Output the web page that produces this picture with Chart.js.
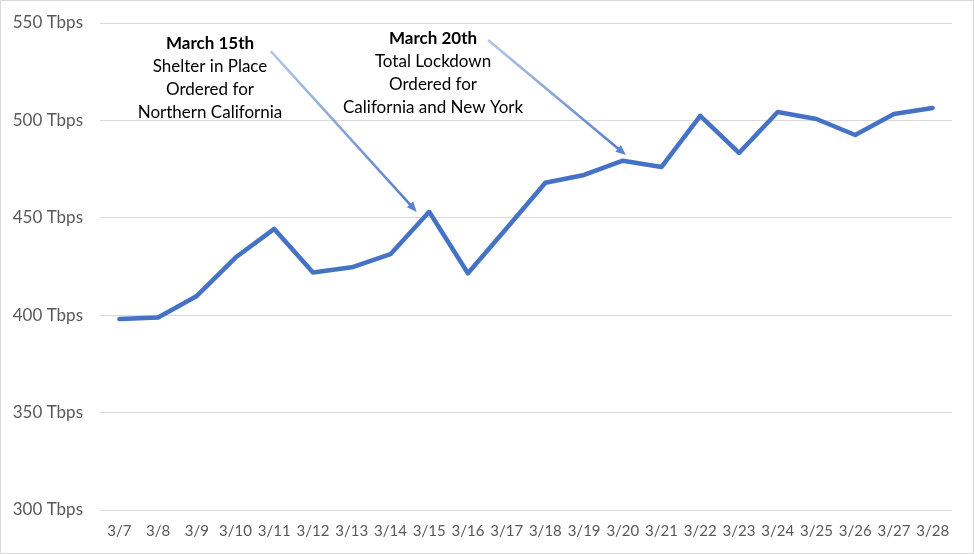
<!DOCTYPE html>
<html>
<head>
<meta charset="utf-8">
<script src="https://cdn.jsdelivr.net/npm/chart.js@4"></script>
<style>
    html, body { margin: 0; padding: 0; background: #fff; }
    .frame {
        width: 974px;
        height: 554px;
        box-sizing: border-box;
        border: 1px solid #d9d9d9;
        position: relative;
    }
    canvas { display: block; }
</style>
</head>
<body>
<div class="frame">
    <canvas id="traffic-chart" width="972" height="552"></canvas>
</div>
<script>
const dates = ["3/7", "3/8", "3/9", "3/10", "3/11", "3/12", "3/13", "3/14", "3/15", "3/16", "3/17",
    "3/18", "3/19", "3/20", "3/21", "3/22", "3/23", "3/24", "3/25", "3/26", "3/27", "3/28"];
const trafficTbps = [398, 398.8, 409.9, 429.6, 444.3, 421.9, 424.6, 431.3, 453.1, 421.5, 444.6,
    468, 472, 479.3, 476.1, 502.3, 483.3, 504.3, 500.7, 492.5, 503.3, 506.4];
const yTicks = [300, 350, 400, 450, 500, 550];

// annotation text anchors and arrows, in data units (category index, Tbps)
const noteTitles = ["March 15th", "March 20th"];
const noteLines = [
    ["Shelter in Place", "Ordered for", "Northern California"],
    ["Total Lockdown", "Ordered for", "California and New York"],
];
const noteAnchors = [[2.34, 539.7], [8.1, 541.8]];
const arrowFrom = [[3.91, 535.6], [9.52, 541.3]];
const arrowTo = [[7.68, 453.0], [13.08, 482.2]];

const fontFamily = "Lato, 'Open Sans', sans-serif";
const lineColor = "#4472c4";

function drawArrow(ctx, x1, y1, x2, y2) {
    const angle = Math.atan2(y2 - y1, x2 - x1);
    const head = 11;
    const grad = ctx.createLinearGradient(x1, y1, x2, y2);
    grad.addColorStop(0, "rgba(124,159,214,0.6)");
    grad.addColorStop(1, "rgba(80,120,200,1)");
    ctx.save();
    ctx.strokeStyle = grad;
    ctx.lineWidth = 2.5;
    ctx.beginPath();
    ctx.moveTo(x1, y1);
    ctx.lineTo(x2 - Math.cos(angle) * head * 0.8, y2 - Math.sin(angle) * head * 0.8);
    ctx.stroke();
    ctx.fillStyle = "#5b84cc";
    ctx.beginPath();
    ctx.moveTo(x2, y2);
    ctx.lineTo(x2 - head * Math.cos(angle - 0.4), y2 - head * Math.sin(angle - 0.4));
    ctx.lineTo(x2 - head * Math.cos(angle + 0.4), y2 - head * Math.sin(angle + 0.4));
    ctx.closePath();
    ctx.fill();
    ctx.restore();
}

const notesPlugin = {
    id: "notes",
    afterDatasetsDraw(chart) {
        const { ctx, scales } = chart;
        const xs = scales.x;
        const ys = scales.y;
        noteTitles.forEach((title, i) => {
            const cx = xs.getPixelForValue(noteAnchors[i][0]);
            const cy = ys.getPixelForValue(noteAnchors[i][1]);
            ctx.save();
            ctx.textAlign = "center";
            ctx.textBaseline = "middle";
            ctx.fillStyle = "#000";
            ctx.font = `bold 17px ${fontFamily}`;
            ctx.fillText(title, cx, cy);
            ctx.font = `17px ${fontFamily}`;
            noteLines[i].forEach((line, j) => {
                ctx.fillText(line, cx, cy + 23 * (j + 1));
            });
            ctx.restore();

            drawArrow(
                ctx,
                xs.getPixelForValue(arrowFrom[i][0]), ys.getPixelForValue(arrowFrom[i][1]),
                xs.getPixelForValue(arrowTo[i][0]), ys.getPixelForValue(arrowTo[i][1]),
            );
        });
    },
};

new Chart(document.getElementById("traffic-chart"), {
    type: "line",
    data: {
        labels: dates,
        datasets: [{
            label: "Traffic",
            data: trafficTbps,
            borderColor: lineColor,
            backgroundColor: lineColor,
            borderWidth: 4.5,
            borderJoinStyle: "round",
            borderCapStyle: "round",
            pointRadius: 0,
            tension: 0,
        }],
    },
    options: {
        responsive: false,
        animation: false,
        layout: { padding: { top: 22, right: 21, left: 0, bottom: 0 } },
        plugins: {
            legend: { display: false },
            tooltip: { enabled: false },
        },
        scales: {
            x: {
                offset: true,
                grid: { display: false, drawTicks: false },
                border: { display: false },
                ticks: {
                    color: "#595959",
                    font: { family: fontFamily, size: 15 },
                    padding: 12,
                    maxRotation: 0,
                    autoSkip: false,
                },
                afterFit(scale) { scale.height = 43; },
            },
            y: {
                min: yTicks[0],
                max: yTicks[yTicks.length - 1],
                afterBuildTicks(scale) {
                    scale.ticks = yTicks.map((value) => ({ value }));
                },
                grid: { color: "#d9d9d9", lineWidth: 1, drawTicks: false },
                border: { display: false },
                ticks: {
                    color: "#595959",
                    font: { family: fontFamily, size: 17 },
                    padding: 17,
                    callback: (value) => `${value} Tbps`,
                },
                afterFit(scale) {
                    scale.width = 99;
                    scale.paddingTop = 0;
                    scale.paddingBottom = 0;
                },
            },
        },
    },
    plugins: [notesPlugin],
});
</script>
</body>
</html>
